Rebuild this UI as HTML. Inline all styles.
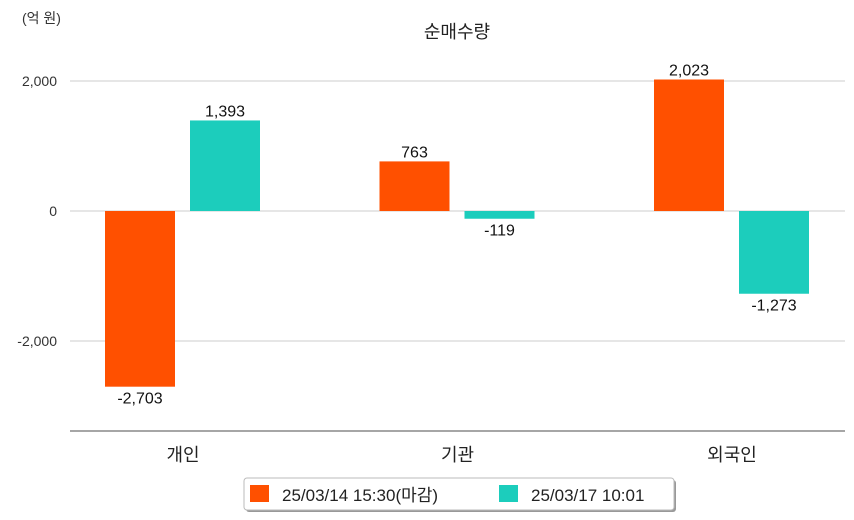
<!DOCTYPE html>
<html><head><meta charset="utf-8"><style>
body{margin:0;background:#fff;font-family:"Liberation Sans","Noto Sans CJK KR",sans-serif}
svg{display:block}
</style></head><body>
<svg id="c" width="854" height="520" xmlns="http://www.w3.org/2000/svg">
<text x="22" y="23" font-size="14" fill="#333" font-family="Liberation Sans,Noto Sans CJK KR,sans-serif">(억 원)</text>
<text x="457" y="38" font-size="18" text-anchor="middle" fill="#222" font-family="Liberation Sans,Noto Sans CJK KR,sans-serif">순매수량</text>
<g id="grid"></g><g id="bars"></g>
<line x1="70" x2="845" y1="431" y2="431" stroke="#888" stroke-width="1.5"/>
<g>
<rect x="246" y="480" width="430" height="32" rx="3" fill="#999"/>
<rect x="244" y="478" width="430" height="32" rx="3" fill="#fff" stroke="#bbb"/>
<rect x="250" y="485" width="19" height="17" fill="#ff5000"/>
<text x="282" y="501" font-size="17" fill="#222" font-family="Liberation Sans,Noto Sans CJK KR,sans-serif">25/03/14 15:30(마감)</text>
<rect x="499" y="485" width="19" height="17" fill="#1ccdbc"/>
<text x="531" y="501" font-size="17" fill="#222" font-family="Liberation Sans,Noto Sans CJK KR,sans-serif">25/03/17 10:01</text>
</g>
</svg>
<script>
const categories=["개인","기관","외국인"];
const series1=[-2703,763,2023];
const series2=[1393,-119,-1273];
const ticks=[2000,0,-2000];
const tickLabels=["2,000","0","-2,000"];
const NS="http://www.w3.org/2000/svg";
const y=v=>211-v*0.065;
const gx=i=>183+i*274.5;
const fmt=v=>v.toLocaleString("en-US");
function mk(t,a,p){const e=document.createElementNS(NS,t);for(const k in a)e.setAttribute(k,a[k]);p.appendChild(e);return e;}
const grid=document.getElementById("grid"),bars=document.getElementById("bars");
ticks.forEach((t,i)=>{
 const l=mk("line",{x1:70,x2:845,y1:y(t),y2:y(t),stroke:"#ccc"},grid);
 
 
 const tx=mk("text",{x:57,y:y(t)+5,"font-size":14,"text-anchor":"end",fill:"#333"},grid);
 tx.textContent=tickLabels[i];
 
 
});
categories.forEach((c,i)=>{
 const cx=gx(i);
 const ct=mk("text",{x:cx,y:461,"font-size":18,"text-anchor":"middle",fill:"#222"},bars);
 ct.textContent=c;
 
 
 [[series1,"#ff5000",cx-78],[series2,"#1ccdbc",cx+7]].forEach(([s,col,x0])=>{
  const v=s[i],top=Math.min(y(v),y(0)),h=Math.abs(y(v)-y(0));
  const r=mk("rect",{x:x0,y:top,width:70,height:h,fill:col},bars);
  
  
  const lt=mk("text",{x:x0+35,y:v>=0?top-4:top+h+17,"font-size":16,"text-anchor":"middle",fill:"#111"},bars);
  lt.textContent=fmt(v);
  
  
 });
});
</script>
</body></html>
